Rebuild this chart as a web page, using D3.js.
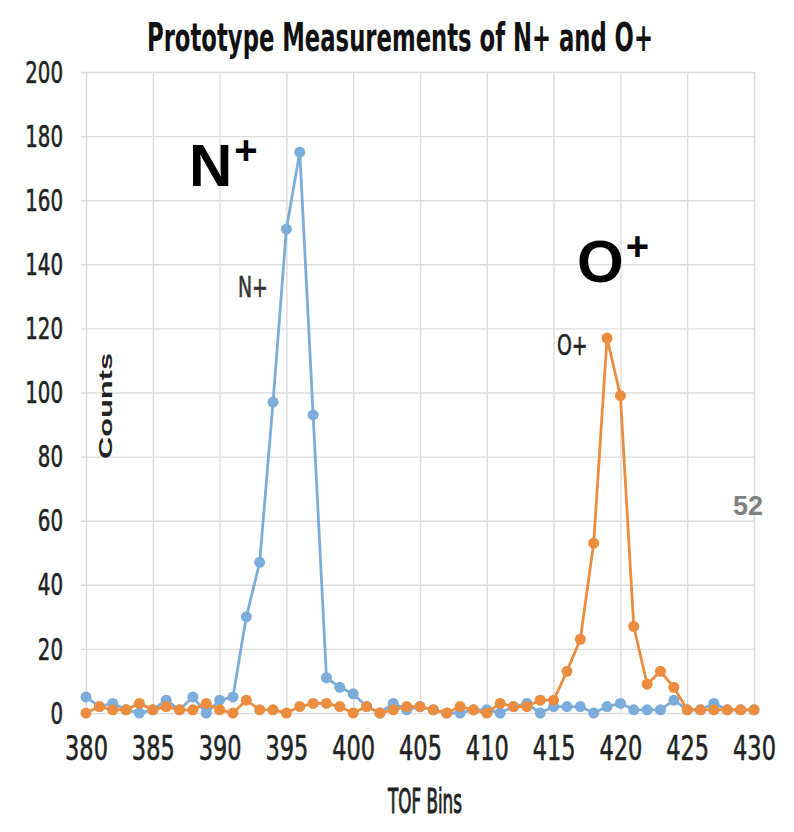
<!DOCTYPE html>
<html><head><meta charset="utf-8">
<script src="https://cdn.jsdelivr.net/npm/d3@7/dist/d3.min.js"></script>
<style>
html,body{margin:0;padding:0;background:#fff;}
svg{display:block;}
.narrow{font-family:"Liberation Sans Narrow","DejaVu Sans Condensed","Arial Narrow",sans-serif;}
</style></head>
<body>
<svg id="chart" width="794" height="832"></svg>
<script>
const bins = d3.range(380, 431);
const nPlus = [5,2,3,1,0,1,4,1,5,0,4,5,30,47,97,151,175,93,11,8,6,2,0,3,1,2,1,0,0,1,1,0,2,3,0,2,2,2,0,2,3,1,1,1,4,1,1,3,1,1,1];
const oPlus = [0,2,1,1,3,1,2,1,1,3,1,0,4,1,1,0,2,3,3,2,0,2,0,1,2,2,1,0,2,1,0,3,2,2,4,4,13,23,53,117,99,27,9,13,8,1,1,1,1,1,1];
const xTicks = [380,385,390,395,400,405,410,415,420,425,430];
const yTicks = [0,20,40,60,80,100,120,140,160,180,200];
const title = "Prototype Measurements of N+ and O+";
const xTitle = "TOF Bins";
const yTitle = "Counts";

const svg = d3.select("#chart");
const x = d3.scaleLinear().domain([380, 430]).range([86, 754]);
const y = d3.scaleLinear().domain([0, 200]).range([713, 72]);
const SY = 1.35;

// grid + y axis
const gy = svg.append("g").attr("transform", "translate(86,0)")
  .call(d3.axisLeft(y).tickValues(yTicks).tickSize(-(754-86)).tickPadding(23));
gy.select(".domain").remove();
gy.selectAll(".tick line").attr("stroke", "#dcdcdc").attr("stroke-width", 1.4).attr("x1", 754-86).attr("x2", -5);
gy.selectAll(".tick text").attr("class","narrow").attr("font-size", 22).attr("fill", "#222")
  .attr("stroke","#222").attr("stroke-width",0.4)
  .attr("dy", null).attr("y", 0)
  .attr("transform", `translate(0,${7.5*SY}) scale(1,${SY})`);

const gx = svg.append("g").attr("transform", "translate(0,713)")
  .call(d3.axisBottom(x).tickValues(xTicks).tickSize(-(713-72)).tickPadding(0));
gx.select(".domain").remove();
gx.selectAll(".tick line").attr("stroke", "#dcdcdc").attr("stroke-width", 1.4);
gx.selectAll(".tick text").attr("class","narrow").attr("font-size", 25).attr("fill", "#222")
  .attr("stroke","#222").attr("stroke-width",0.4)
  .attr("dy", null).attr("y", 0)
  .attr("transform", `translate(0,${47}) scale(1,${SY})`);

// series
function drawSeries(vals, color) {
  const data = bins.map((b, i) => [b, vals[i]]);
  svg.append("path").datum(data)
    .attr("fill", "none").attr("stroke", color).attr("stroke-width", 2.8)
    .attr("stroke-linejoin", "round")
    .attr("d", d3.line().x(d => x(d[0])).y(d => y(d[1])));
  svg.append("g").selectAll("circle").data(data).join("circle")
    .attr("cx", d => x(d[0])).attr("cy", d => y(d[1])).attr("r", 5.5)
    .attr("fill", color);
}
drawSeries(nPlus, "#7cacda");
drawSeries(oPlus, "#eb8c3e");

// title
svg.append("text").attr("class","narrow").attr("x", 400).attr("y", 0)
  .attr("text-anchor", "middle").attr("font-size", 26).attr("font-weight", "bold").attr("fill", "#111")
  .attr("transform", `translate(0,${51}) scale(1,1.5)`)
  .attr("textLength", 506).attr("lengthAdjust", "spacingAndGlyphs")
  .text(title);

// axis titles
svg.append("text").attr("class","narrow").attr("x", 0).attr("y", 0)
  .attr("text-anchor", "middle").attr("font-size", 24).attr("fill", "#222")
  .attr("stroke","#222").attr("stroke-width",0.7)
  .attr("transform", `translate(425,813) scale(1,1.4)`)
  .attr("textLength", 74).attr("lengthAdjust", "spacingAndGlyphs")
  .text(xTitle);
svg.append("text").attr("x", 0).attr("y", 0)
  .attr("text-anchor", "middle").attr("font-family","Liberation Sans, Arial, sans-serif")
  .attr("font-size", 19).attr("font-weight", "bold").attr("fill", "#222")
  .attr("transform", "translate(112,406) rotate(-90)")
  .attr("textLength", 106).attr("lengthAdjust", "spacingAndGlyphs")
  .text(yTitle);

// big annotations
function bigLabel(px, py, base) {
  const t = svg.append("text").attr("x", px).attr("y", py)
    .attr("font-family","Liberation Sans, Arial, sans-serif").attr("font-weight","bold")
    .attr("font-size", 60).attr("fill","#000");
  t.append("tspan").text(base);
  t.append("tspan").attr("font-size", 40).attr("dy", -22).attr("dx", 2).text("+");
}
bigLabel(189, 186, "N");
bigLabel(577, 282, "O");

// small annotations
svg.append("text").attr("class","narrow").attr("x",0).attr("y",0).attr("font-size",21).attr("fill","#333")
  .attr("stroke","#333").attr("stroke-width",0.4)
  .attr("transform",`translate(238,297) scale(1,${SY})`).text("N+");
svg.append("text").attr("class","narrow").attr("x",0).attr("y",0).attr("font-size",21).attr("fill","#222")
  .attr("stroke","#222").attr("stroke-width",0.4)
  .attr("transform",`translate(557,355) scale(1,${SY})`).text("O+");

// page number
svg.append("text").attr("x", 748).attr("y", 515).attr("text-anchor","middle")
  .attr("font-family","Liberation Sans, Arial, sans-serif").attr("font-weight","bold")
  .attr("font-size", 27).attr("fill","#7f7f7f").text("52");
</script>
</body></html>
